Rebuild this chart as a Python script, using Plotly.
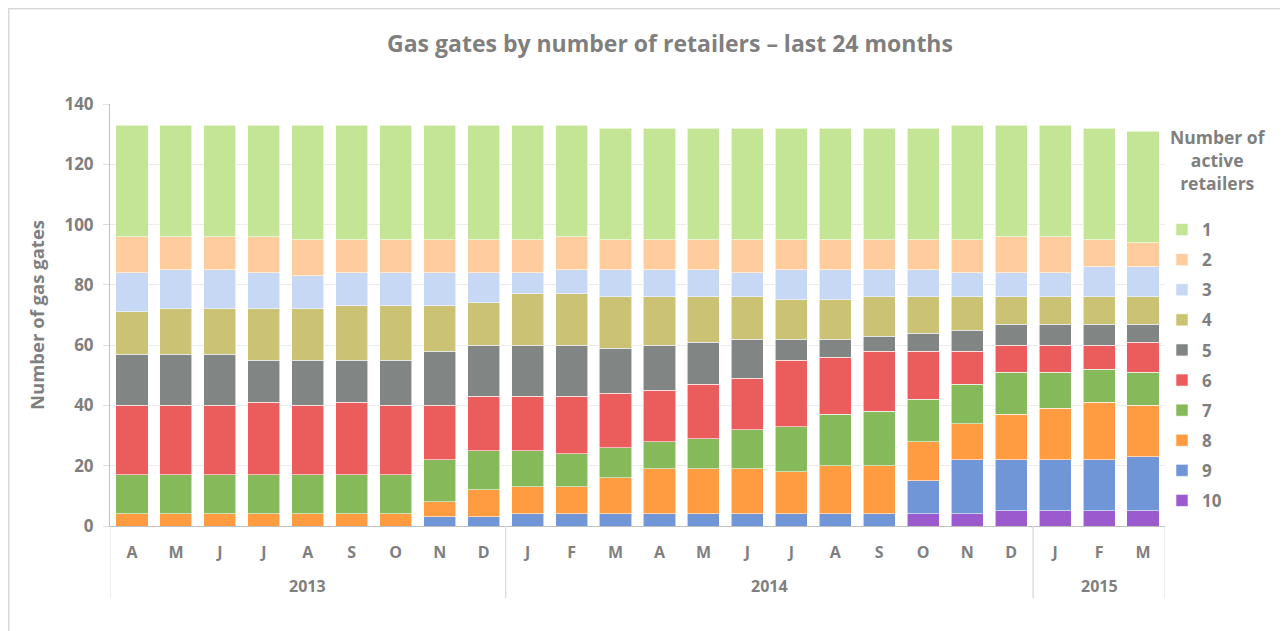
import plotly.graph_objects as go

years = ["2013"] * 9 + ["2014"] * 12 + ["2015"] * 3
months = ["A", "M", "J", "J", "A", "S", "O", "N", "D",
          "J", "F", "M", "A", "M", "J", "J", "A", "S", "O", "N", "D",
          "J", "F", "M"]

s10 = [0, 0, 0, 0, 0, 0, 0, 0, 0, 0, 0, 0, 0, 0, 0, 0, 0, 0, 4, 4, 5, 5, 5, 5]
s9 = [0, 0, 0, 0, 0, 0, 0, 3, 3, 4, 4, 4, 4, 4, 4, 4, 4, 4, 11, 18, 17, 17, 17, 18]
s8 = [4, 4, 4, 4, 4, 4, 4, 5, 9, 9, 9, 12, 15, 15, 15, 14, 16, 16, 13, 12, 15, 17, 19, 17]
s7 = [13, 13, 13, 13, 13, 13, 13, 14, 13, 12, 11, 10, 9, 10, 13, 15, 17, 18, 14, 13, 14, 12, 11, 11]
s6 = [23, 23, 23, 24, 23, 24, 23, 18, 18, 18, 19, 18, 17, 18, 17, 22, 19, 20, 16, 11, 9, 9, 8, 10]
s5 = [17, 17, 17, 14, 15, 14, 15, 18, 17, 17, 17, 15, 15, 14, 13, 7, 6, 5, 6, 7, 7, 7, 7, 6]
s4 = [14, 15, 15, 17, 17, 18, 18, 15, 14, 17, 17, 17, 16, 15, 14, 13, 13, 13, 12, 11, 9, 9, 9, 9]
s3 = [13, 13, 13, 12, 11, 11, 11, 11, 10, 7, 8, 9, 9, 9, 8, 10, 10, 9, 9, 8, 8, 8, 10, 10]
s2 = [12, 11, 11, 12, 12, 11, 11, 11, 11, 11, 11, 10, 10, 10, 11, 10, 10, 10, 10, 11, 12, 12, 9, 8]
s1 = [37, 37, 37, 37, 38, 38, 38, 38, 38, 38, 37, 37, 37, 37, 37, 37, 37, 37, 37, 38, 37, 37, 37, 37]

series_names = ["10", "9", "8", "7", "6", "5", "4", "3", "2", "1"]
series_values = [s10, s9, s8, s7, s6, s5, s4, s3, s2, s1]
series_colors = ["#9b5bce", "#7196d8", "#ff9c42", "#85b95a", "#eb5d5d",
                 "#818685", "#cbc274", "#c6d8f4", "#ffcc9e", "#c5e596"]

GRAY = "#7f7f7f"
FONT = "Open Sans"
OFF = 8  # page body margin
W, H = 1288 - OFF, 631 - OFF
ML, MR, MT, MB = 110 - OFF, 123, 104 - OFF, 105
PW, PH = W - ML - MR, H - MT - MB

def px_x(p):
    return (p - OFF - ML) / PW

def px_y(p):
    return (H - MB - (p - OFF)) / PH

x_idx = list(range(len(months)))

fig = go.Figure()
for name, vals, col in zip(series_names, series_values, series_colors):
    fig.add_trace(go.Bar(
        x=x_idx, y=vals, name=name, legendgroup=name, legendrank=int(name),
        marker=dict(color=col, line=dict(color="rgba(255,255,255,0.7)", width=0.8)),
    ))

fig.update_layout(
    barmode="stack",
    bargap=0.27,
    width=W, height=H,
    margin=dict(l=ML, r=MR, t=MT, b=MB, autoexpand=False),
    paper_bgcolor="white", plot_bgcolor="white",
    font=dict(family=FONT, color=GRAY, size=16, weight="bold"),
    title=dict(text="Gas gates by number of retailers – last 24 months",
               xref="container", x=(670 - OFF) / W, xanchor="center",
               y=1 - (44 - OFF) / H, yanchor="middle",
               font=dict(family=FONT, size=23, color=GRAY, weight="bold")),
    legend=dict(
        traceorder="grouped", tracegroupgap=5,
        x=px_x(1162), xanchor="left", y=px_y(212), yanchor="top",
        font=dict(family=FONT, size=17, color=GRAY, weight="bold"),
        itemwidth=30,
        bgcolor="rgba(0,0,0,0)",
    ),
    showlegend=True,
)

fig.update_yaxes(
    range=[0, 140], dtick=20, showgrid=True, gridcolor="#ececec", gridwidth=1,
    showline=True, linecolor="#bfbfbf", linewidth=1,
    ticks="outside", ticklen=6, tickcolor="#e0e0e0",
    ticklabelstandoff=6, automargin=False,
    tickfont=dict(family=FONT, size=17, color=GRAY, weight="bold"),
    title=dict(text="Number of gas gates", standoff=14,
               font=dict(family=FONT, size=18.5, color=GRAY, weight="bold")),
    zeroline=False,
)
fig.update_xaxes(
    range=[-0.5, len(months) - 0.5],
    tickmode="array", tickvals=x_idx, ticktext=months,
    showline=True, linecolor="#bfbfbf", linewidth=1,
    ticks="", showgrid=False, zeroline=False, automargin=False,
    tickfont=dict(family=FONT, size=16, color=GRAY, weight="bold"),
    ticklabelstandoff=12,
)

# legend title
fig.add_annotation(text="Number of<br>active<br>retailers", xref="paper", yref="paper",
                   x=px_x(1218), y=px_y(160), xanchor="center", yanchor="middle",
                   showarrow=False, align="center",
                   font=dict(family=FONT, size=17.5, color=GRAY, weight="bold"))

# year group labels and dividers
groups = []
for i, yv in enumerate(years):
    if not groups or groups[-1][0] != yv:
        groups.append([yv, i, i])
    else:
        groups[-1][2] = i
div_bottom = px_y(598)
for yv, i0, i1 in groups:
    fig.add_annotation(text=yv, x=(i0 + i1) / 2, xref="x", y=px_y(586), yref="paper",
                       showarrow=False, yanchor="middle",
                       font=dict(family=FONT, size=16, color=GRAY, weight="bold"))
    for xb in (i0 - 0.5, i1 + 0.5):
        fig.add_shape(type="line", xref="x", yref="paper", x0=xb, x1=xb,
                      y0=0, y1=div_bottom, line=dict(color="#dcdcdc", width=1))

# outer frame
fig.add_shape(type="rect", xref="paper", yref="paper",
              x0=px_x(8.8), x1=px_x(1300), y0=px_y(640), y1=px_y(8.8),
              line=dict(color="#d9d9d9", width=1.5), fillcolor="rgba(0,0,0,0)", layer="below")

fig.write_html("out.html")
